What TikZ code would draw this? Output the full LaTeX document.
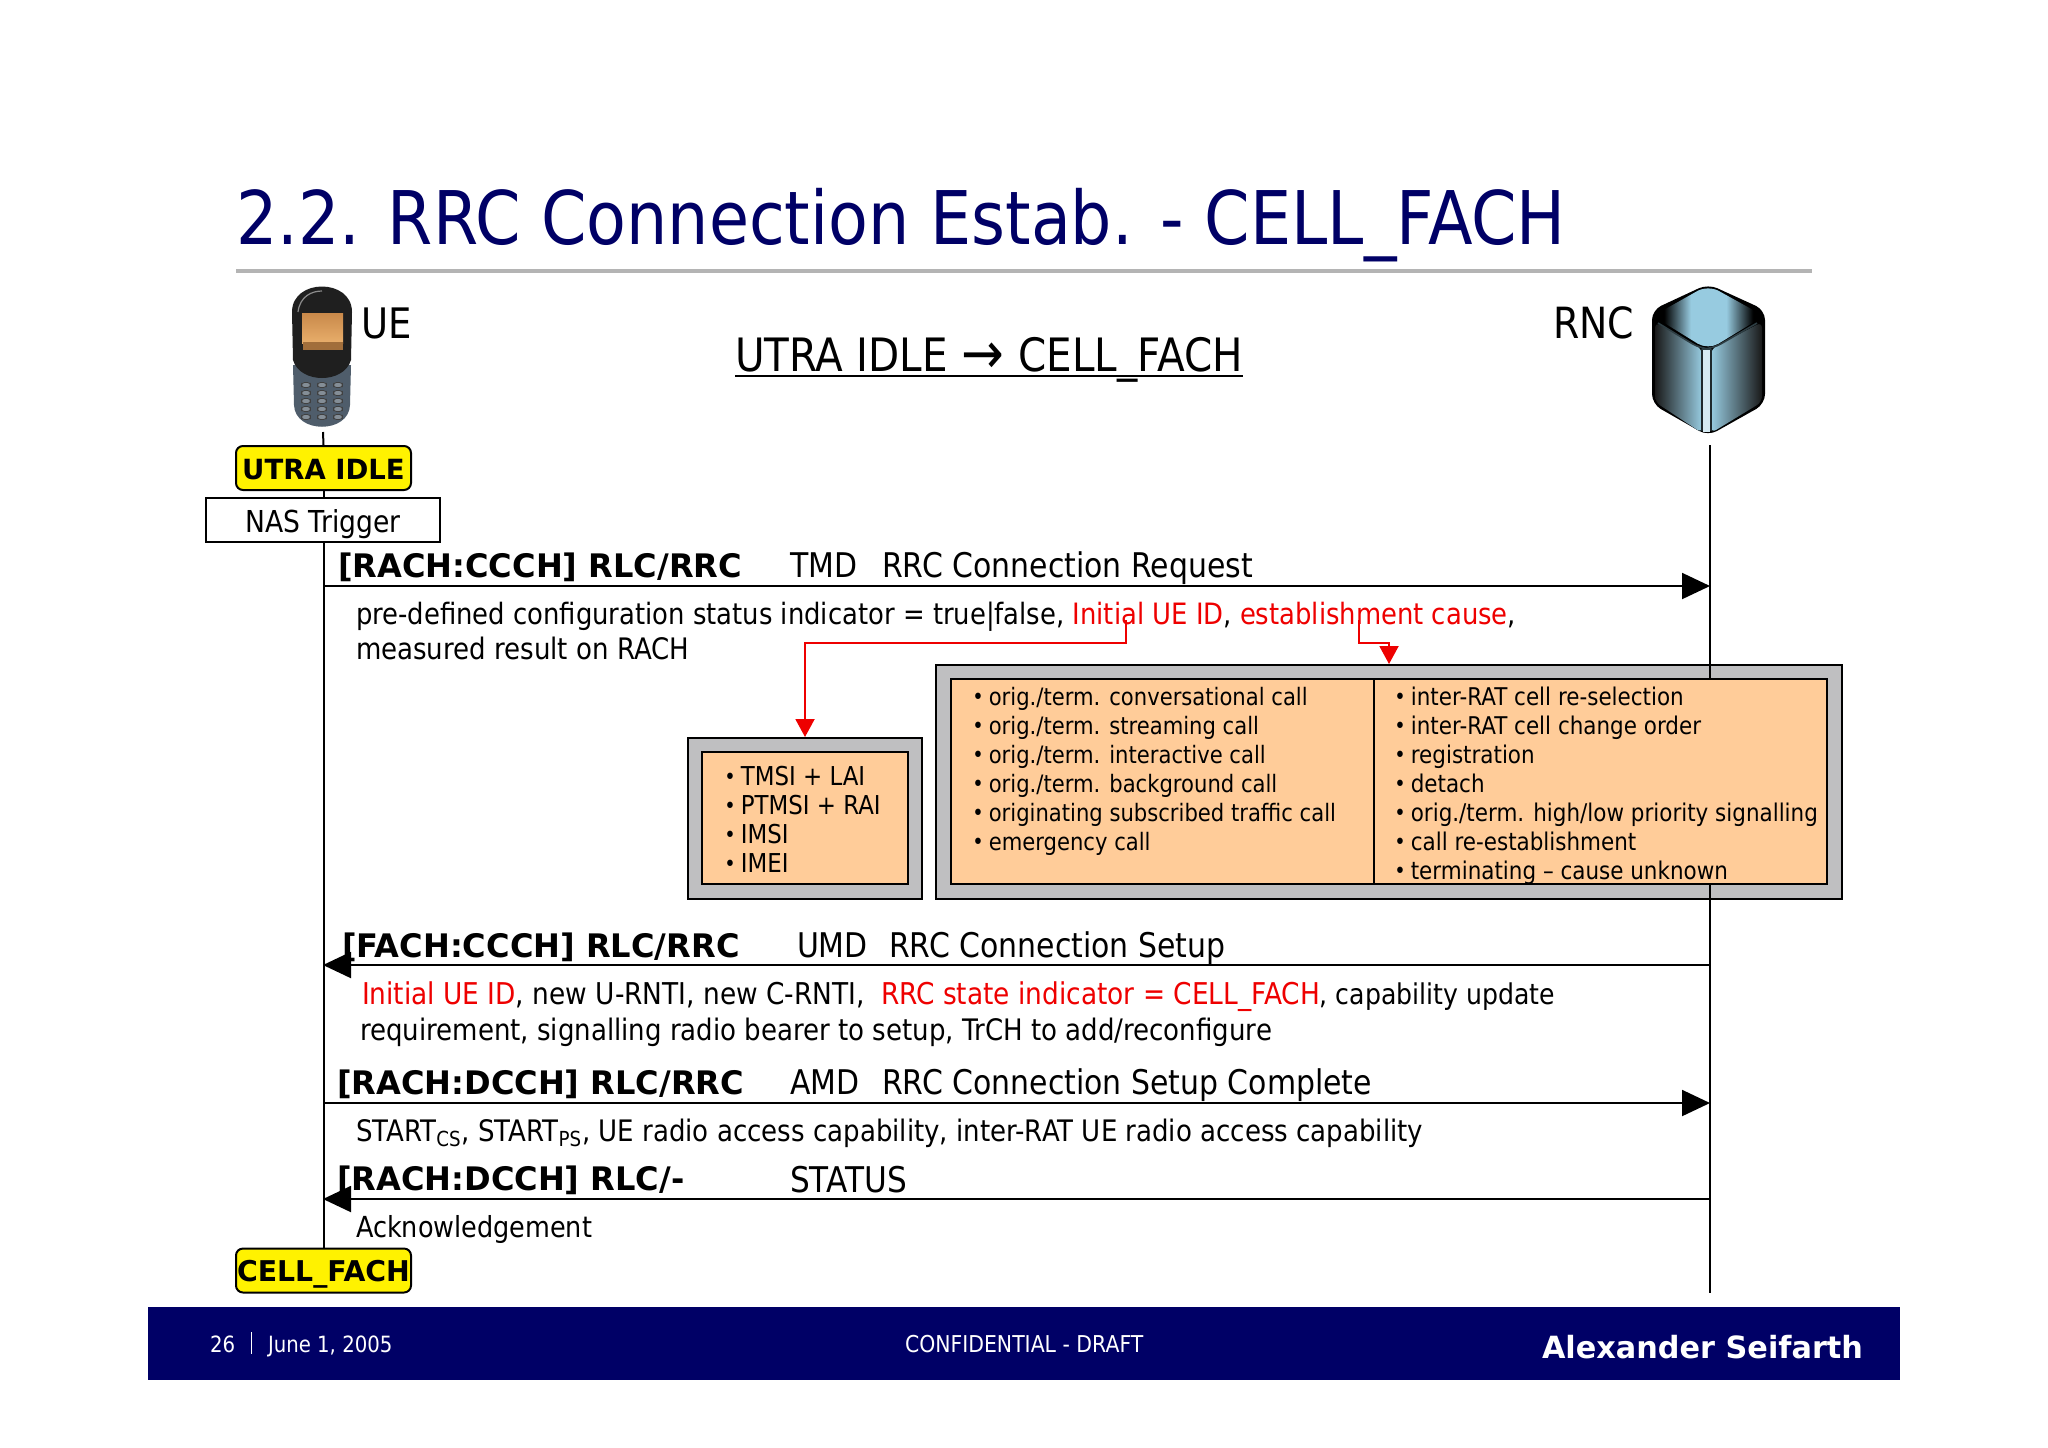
\documentclass[tikz,border=0pt]{standalone}
\usepackage{fontspec}
\setmainfont[FakeStretch=0.88]{DejaVu Sans}
\newfontfamily\headf[FakeStretch=0.99]{DejaVu Sans}
\usetikzlibrary{arrows.meta,calc}
\definecolor{navy}{HTML}{000066}
\definecolor{rulegrey}{HTML}{B4B4B4}
\definecolor{frame}{HTML}{BFBFC1}
\definecolor{peach}{HTML}{FFCC99}
\definecolor{signred}{HTML}{EE0000}
\definecolor{deepblue}{HTML}{97CBE0}
\definecolor{slate}{HTML}{4F5D6B}
\definecolor{screendark}{HTML}{C9894A}
\definecolor{screenlight}{HTML}{E8AE6B}
\newcommand{\sz}[1]{\fontsize{#1}{#1}\selectfont}
\newcommand{\itm}{\makebox[8.2pt][l]{\raisebox{0.6pt}{\sz{11}\textbullet}}}
\pgfdeclarehorizontalshading{topface}{100bp}{color(0bp)=(black); color(30bp)=(black);
  color(42bp)=(deepblue); color(58bp)=(deepblue); color(70bp)=(black); color(100bp)=(black)}
\tikzstyle{txt}=[anchor=base west, inner sep=0pt, outer sep=0pt]
\tikzstyle{state}=[draw, fill=yellow, rounded corners=3.5pt, line width=1pt,
  minimum width=87.5pt, minimum height=22pt, inner sep=0pt, text height=11pt, text depth=0pt,
  font=\headf\bfseries\sz{13.9}]
\tikzstyle{head}=[txt, font=\headf\bfseries\sz{16.2}]
\tikzstyle{msg}=[txt, font=\sz{17}]
\tikzstyle{param}=[txt, font=\sz{14.8}]
\tikzstyle{foot}=[txt, white, font=\sz{11.2}]
\tikzstyle{list}=[anchor=north west, inner sep=0pt, align=left, font=\fontsize{12.2}{14.5}\selectfont]
\tikzstyle{box}=[line width=1pt]
\tikzstyle{flow}=[line width=1pt, -{Triangle[length=14pt,width=13pt]}]
\tikzstyle{link}=[signred, line width=1pt, -{Triangle[length=9pt,width=9.5pt]}]
\begin{document}
\begin{tikzpicture}[x=0.5pt,y=-0.5pt]
  \useasboundingbox (0,0) rectangle (2048,1447);

  \node(title)[txt, navy, font=\sz{37}] at (236,244) {2.2. RRC Connection Estab. - CELL\_FACH};
  \fill[rulegrey] (236,269) rectangle (1812,273);

  \node(ue)[txt, font=\sz{21}] at (361,338) {UE};
  \node(rnc)[txt, font=\sz{21.5}] at (1553,338) {RNC};
  \node(mode)[txt, font=\sz{23}] at (735,371) {UTRA IDLE\hspace{7pt}{\sz{29}\raisebox{-1pt}{→}}\hspace{7pt}CELL\_FACH};
  \draw[line width=1.2pt] ($(mode.base west)+(0,5)$) -- ($(mode.base east)+(0,5)$);

  \coordinate (uetop) at (323,432);
  \coordinate (rnctop) at (1710,445);
  \coordinate (rncend) at (1710,1293);

  \node(idsframe)[draw, box, fill=frame, minimum width=117pt, minimum height=80.5pt] at (805,818.5) {};
  \node(callsframe)[draw, box, fill=frame, minimum width=453pt, minimum height=117pt] at (1389,782) {};

  \draw[line width=1pt] (rnctop) -- (rncend);

  \node(idle)[state] at (323.5,468) {UTRA IDLE};
  \node(fach)[state, font=\headf\bfseries\sz{14.3}] at (323.5,1270.5) {CELL\_FACH};
  \draw[line width=1pt] (uetop) -- (idle.north);
  \draw[line width=1pt] (idle.south) -- (fach.north);
  \node(nas)[draw, fill=white, line width=1pt, minimum width=117pt, minimum height=22pt,
    inner sep=0pt, text height=12pt, text depth=0pt, font=\sz{15.1}] at (323,520) {NAS Trigger};

  \fill[peach] (702,752) rectangle (908,884);
  \draw[box] (702,752) rectangle (908,884);
  \fill[peach] (950.5,679) rectangle (1827,884);
  \draw[box] (950.5,679) rectangle (1827,884);
  \draw[box] (1374,679) -- (1374,884);

  \node(ids)[list, font=\fontsize{13}{14.5}\selectfont] at (724,766) {\itm TMSI + LAI\\\itm PTMSI + RAI\\\itm IMSI\\\itm IMEI};
  \node(calls)[list, font=\fontsize{12}{14.5}\selectfont] at (972,687) {\itm orig./term. conversational call\\
    \itm orig./term. streaming call\\\itm orig./term. interactive call\\
    \itm orig./term. background call\\\itm originating subscribed traffic call\\
    \itm emergency call};
  \node(other)[list] at (1394,686.5) {\itm inter-RAT cell re-selection\\
    \itm inter-RAT cell change order\\\itm registration\\\itm detach\\
    \itm orig./term. high/low priority signalling\\\itm call re-establishment\\
    \itm terminating -- cause unknown};

  \node(h1)[head] at (338,577) {[RACH:CCCH] RLC/RRC};
  \node(m1a)[msg] at (790,577) {TMD};
  \node(m1b)[msg] at (882,577) {RRC Connection Request};
  \coordinate (a1) at (323,586);
  \coordinate (b1) at (1710,586);
  \draw[flow] (a1) -- (b1);
  \node(p1)[param, font=\sz{14.7}] at (356,624) {pre-defined configuration status indicator = true|false,
    \textcolor{signred}{Initial UE ID}, \textcolor{signred}{establishment cause},};
  \node(p1b)[param] at (356,659) {measured result on RACH};

  \coordinate (initial) at (1126,620);
  \coordinate (cause) at (1359,620);
  \coordinate (idstop) at (805,737);
  \coordinate (callstop) at (1389,664);
  \draw[link] (initial) |- (805,643) -- (idstop);
  \draw[link] (cause) |- (1389,643) -- (callstop);

  \node(h2)[head] at (342,957) {[FACH:CCCH] RLC/RRC};
  \node(m2a)[msg] at (797,957) {UMD};
  \node(m2b)[msg] at (889,957) {RRC Connection Setup};
  \coordinate (a2) at (323,965);
  \coordinate (b2) at (1710,965);
  \draw[flow] (b2) -- (a2);
  \node(p2)[param, font=\sz{15}] at (362,1004) {\textcolor{signred}{Initial UE ID}, new U-RNTI, new C-RNTI,\hspace{4pt}
    \textcolor{signred}{RRC state indicator = CELL\_FACH}{\sz{14.3}, capability update}};
  \node(p2b)[param] at (360,1040) {requirement, signalling radio bearer to setup, TrCH to add/reconfigure};

  \node(h3)[head] at (337,1094) {[RACH:DCCH] RLC/RRC};
  \node(m3a)[msg] at (790,1094) {AMD};
  \node(m3b)[msg] at (882,1094) {RRC Connection Setup Complete};
  \coordinate (a3) at (323,1103);
  \coordinate (b3) at (1710,1103);
  \draw[flow] (a3) -- (b3);
  \node(p3)[param] at (356,1141) {START\textsubscript{CS}, START\textsubscript{PS}, UE radio access capability, inter-RAT UE radio access capability};

  \node(h4)[head] at (337,1190) {[RACH:DCCH] RLC/-};
  \node(m4)[msg, font=\sz{17.7}] at (790,1192) {STATUS};
  \coordinate (a4) at (323,1199);
  \coordinate (b4) at (1710,1199);
  \draw[flow] (b4) -- (a4);
  \node(p4)[param, font=\sz{14.5}] at (356,1237) {Acknowledgement};

  \fill[navy] (148,1307) rectangle (1900,1380);
  \node(page)[foot] at (210,1352) {26};
  \fill[white] (250.5,1332) rectangle (252,1354);
  \node(date)[foot] at (268,1352) {June 1, 2005};
  \node(conf)[foot, font=\sz{11.6}] at (905,1352) {CONFIDENTIAL - DRAFT};
  \node(name)[txt, white, font=\headf\bfseries\sz{15.3}] at (1542,1358) {Alexander Seifarth};

  \fill[slate] (293,365) -- (351,365) -- (350,405) .. controls (349,434) and (295,434) .. (294,405) -- cycle;
  \fill[black!88] (292,312) .. controls (292,278) and (352,278) .. (352,312)
    -- (351,360) .. controls (344,384) and (300,384) .. (293,360) -- cycle;
  \draw[black!45, line width=0.6pt] (298,312) .. controls (300,296) and (312,291) .. (322,291);
  \fill[top color=screendark, bottom color=screenlight] (302,313) rectangle (343,343);
  \fill[screendark!80!black] (303,342) rectangle (343,350);
  \foreach \row in {385,393,401,409,417} {
    \foreach \col in {306,322,338} {
      \draw[black!75, fill=slate!70!white, line width=0.4pt, rounded corners=1.5pt]
        (\col-4.5,\row-2.5) rectangle (\col+4.5,\row+2.5);
    }
  }

  \fill[black, rounded corners=5pt] (1652,310) -- (1708,284) -- (1765,310) -- (1765,404) -- (1708,436) -- (1652,404) -- cycle;
  \fill[left color=black!90, right color=deepblue, rounded corners=3pt] (1655,322) -- (1702,349) -- (1702,433) -- (1655,402) -- cycle;
  \fill[left color=deepblue, right color=black!90, rounded corners=3pt] (1711,349) -- (1762,322) -- (1762,402) -- (1711,433) -- cycle;
  \fill[white!60!deepblue] (1703,349) rectangle (1710,432);
  \draw[black!80!deepblue, line width=0.8pt] (1702,349) -- (1702,431) (1711,349) -- (1711,431);
  \shade[shading=topface, rounded corners=6pt]
    (1708,285) -- (1764,316) -- (1708,350) -- (1653,316) -- cycle;
  \draw[black!70!deepblue, line width=0.8pt, rounded corners=5pt] (1658,323) -- (1701,349) -- (1712,349) -- (1757,323);
\end{tikzpicture}
\end{document}
